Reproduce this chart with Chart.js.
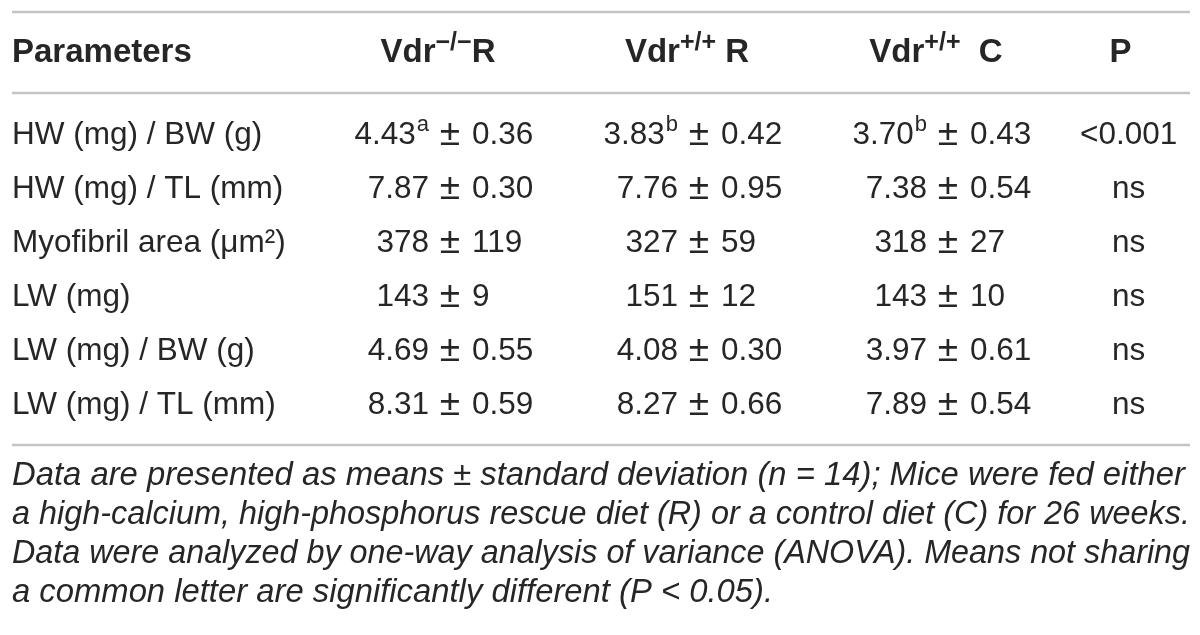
<!DOCTYPE html>
<html>
<head>
<meta charset="utf-8">
<script src="https://cdn.jsdelivr.net/npm/chart.js@4.4.1/dist/chart.umd.min.js"></script>
<style>
  html, body { margin: 0; background: #fff; }
  #wrap { width: 1200px; height: 635px; }
</style>
</head>
<body>
<div id="wrap"><canvas id="chart"></canvas></div>
<script>
// row labels
const parameters = ['HW (mg) / BW (g)', 'HW (mg) / TL (mm)', 'Myofibril area (\u03BCm\u00B2)',
                    'LW (mg)', 'LW (mg) / BW (g)', 'LW (mg) / TL (mm)'];

// column headers: base, superscript, diet
const groupNames = ['Vdr', 'Vdr', 'Vdr'];
const groupSup = ['\u2212/\u2212', '+/+', '+/+'];
const groupDiet = ['R', ' R', '  C'];

// Vdr-/- rescue diet
const koRMean = ['4.43', '7.87', '378', '143', '4.69', '8.31'];
const koRSd = ['0.36', '0.30', '119', '9', '0.55', '0.59'];
const koRLetter = ['a', '', '', '', '', ''];

// Vdr+/+ rescue diet
const wtRMean = ['3.83', '7.76', '327', '151', '4.08', '8.27'];
const wtRSd = ['0.42', '0.95', '59', '12', '0.30', '0.66'];
const wtRLetter = ['b', '', '', '', '', ''];

// Vdr+/+ control diet
const wtCMean = ['3.70', '7.38', '318', '143', '3.97', '7.89'];
const wtCSd = ['0.43', '0.54', '27', '10', '0.61', '0.54'];
const wtCLetter = ['b', '', '', '', '', ''];

const pValues = ['<0.001', 'ns', 'ns', 'ns', 'ns', 'ns'];

const footnote = [
  'Data are presented as means \u00B1 standard deviation (n = 14); Mice were fed either',
  'a high-calcium, high-phosphorus rescue diet (R) or a control diet (C) for 26 weeks.',
  'Data were analyzed by one-way analysis of variance (ANOVA). Means not sharing',
  'a common letter are significantly different (P < 0.05).'
];

const family = "'Liberation Sans', Arial, sans-serif";
const textColor = '#262626';
const ruleColor = '#c4c4c4';
const bodySize = 31.5;
const headSize = 33;

const columns = [
  { mean: koRMean, sd: koRSd, letter: koRLetter },
  { mean: wtRMean, sd: wtRSd, letter: wtRLetter },
  { mean: wtCMean, sd: wtCSd, letter: wtCLetter }
];

function font(weight, size) {
  return weight + ' ' + size + 'px ' + family;
}

// "mean(letter) ± sd", lined up on the ± sign
function drawCell(ctx, cx, cy, mean, letter, sd) {
  ctx.font = font('normal', 37);
  ctx.textAlign = 'center';
  ctx.fillText('\u00B1', cx, cy);

  let right = cx - 21;
  ctx.textAlign = 'right';
  if (letter) {
    ctx.font = font('normal', Math.round(bodySize * 0.7));
    ctx.fillText(letter, right, cy - bodySize * 0.33);
    right -= ctx.measureText(letter).width + 1;
  }
  ctx.font = font('normal', bodySize);
  ctx.fillText(mean, right, cy);

  ctx.textAlign = 'left';
  ctx.fillText(sd, cx + 22, cy);
}

// bold header with raised genotype, centred on cx
function drawHeader(ctx, parts, cx, cy) {
  const supSize = Math.round(headSize * 0.76);
  let total = 0;
  parts.forEach(p => {
    ctx.font = font('bold', p.sup ? supSize : headSize);
    p.w = ctx.measureText(p.t).width;
    total += p.w;
  });
  let px = cx - total / 2;
  ctx.textAlign = 'left';
  parts.forEach(p => {
    ctx.font = font('bold', p.sup ? supSize : headSize);
    ctx.fillText(p.t, px, p.sup ? cy - headSize * 0.3 : cy);
    px += p.w;
  });
}

const tablePlugin = {
  id: 'table',
  afterDraw(chart) {
    const { ctx, chartArea, scales: { x, y, yP } } = chart;
    ctx.save();

    // horizontal rules
    ctx.strokeStyle = ruleColor;
    ctx.lineWidth = 2.5;
    [chartArea.top - 96, chartArea.top - 15, chartArea.bottom + 13].forEach(ry => {
      ctx.beginPath();
      ctx.moveTo(12, ry);
      ctx.lineTo(chart.width - 10, ry);
      ctx.stroke();
    });

    ctx.fillStyle = textColor;
    ctx.textBaseline = 'middle';

    // header row
    const hy = chartArea.top - 55;
    ctx.textAlign = 'left';
    ctx.font = font('bold', headSize);
    ctx.fillText('Parameters', y.left, hy);
    groupNames.forEach((g, i) => {
      drawHeader(ctx, [{ t: g }, { t: groupSup[i], sup: true }, { t: groupDiet[i] }],
                 x.getPixelForValue(i) - 12, hy);
    });
    // P header above the P labels of the right axis
    ctx.font = font('normal', bodySize);
    const widest = Math.max(...pValues.map(v => ctx.measureText(v).width));
    drawHeader(ctx, [{ t: 'P' }], yP.left + yP.options.ticks.padding + widest / 2, hy);

    // body cells
    parameters.forEach((_, j) => {
      const cy = y.getPixelForValue(j);
      columns.forEach((col, i) => {
        drawCell(ctx, x.getPixelForValue(i), cy, col.mean[j], col.letter[j], col.sd[j]);
      });
    });

    ctx.restore();
  }
};

new Chart('chart', {
  type: 'line',
  data: {
    labels: groupNames.map((g, i) => g + groupSup[i] + groupDiet[i]),
    datasets: []
  },
  options: {
    responsive: true,
    maintainAspectRatio: false,
    animation: false,
    layout: { padding: { left: 12, top: 108, right: 10, bottom: 0 } },
    scales: {
      x: { type: 'category', display: false, offset: false },
      y: {
        type: 'category',
        labels: parameters,
        offset: true,
        grid: { display: false },
        border: { display: false },
        afterFit(axis) { axis.width = 438; axis.paddingTop = 0; axis.paddingBottom = 0; },
        ticks: {
          crossAlign: 'far',
          padding: 0,
          color: textColor,
          font: { family: family, size: bodySize }
        }
      },
      yP: {
        type: 'category',
        position: 'right',
        labels: pValues,
        offset: true,
        grid: { display: false },
        border: { display: false },
        afterFit(axis) { axis.width = 242; axis.paddingTop = 0; axis.paddingBottom = 0; },
        ticks: {
          crossAlign: 'center',
          padding: 124,
          color: textColor,
          font: { family: family, size: bodySize }
        }
      }
    },
    plugins: {
      legend: { display: false },
      tooltip: { enabled: false },
      title: {
        display: true,
        position: 'bottom',
        align: 'start',
        text: footnote,
        color: textColor,
        font: { family: family, size: 32.8, style: 'italic', weight: 'normal', lineHeight: 39 / 32.8 },
        padding: { top: 24.5, bottom: 22.5 }
      }
    }
  },
  plugins: [tablePlugin]
});
</script>
</body>
</html>
